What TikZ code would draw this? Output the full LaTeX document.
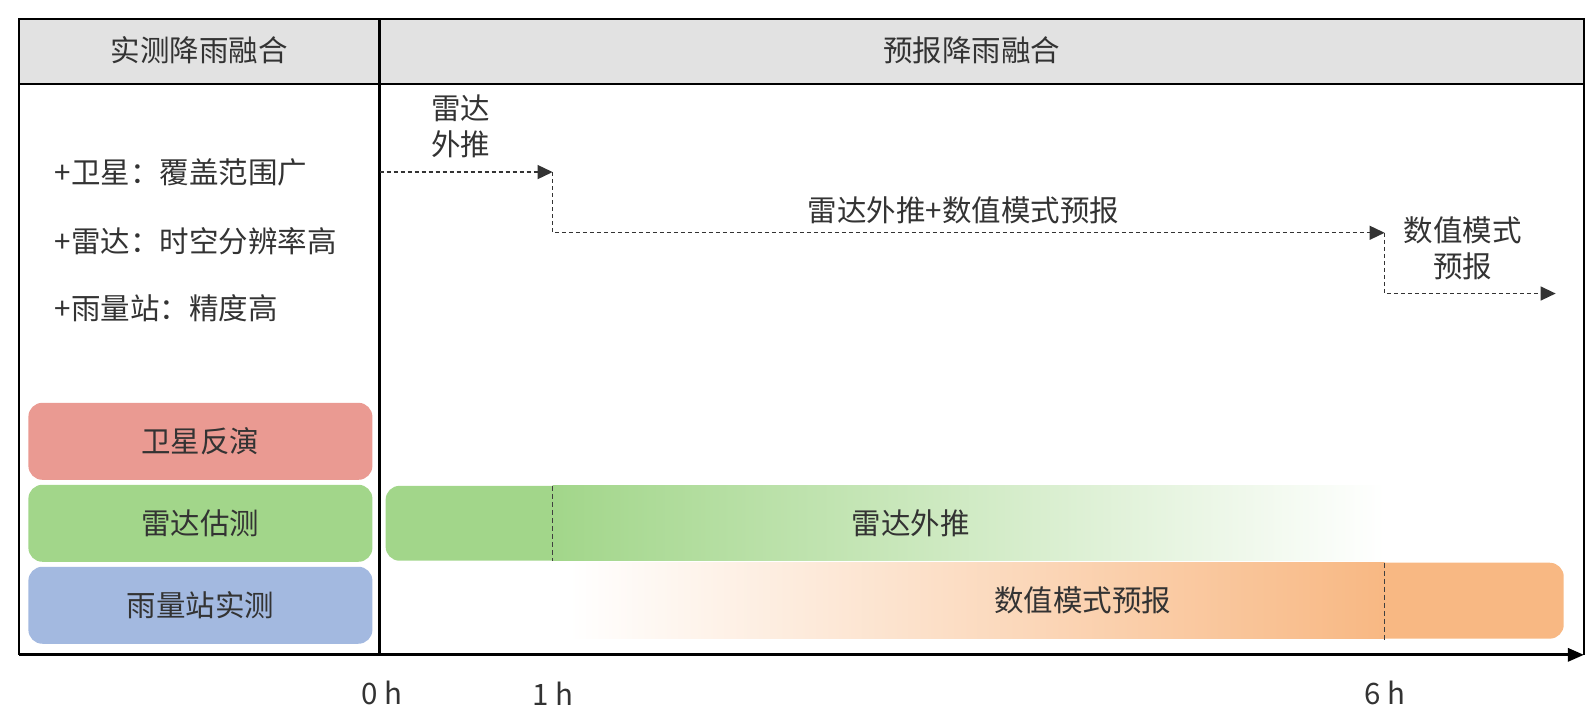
\documentclass[tikz,border=0pt]{standalone}
\usepackage{fontspec}
\setmainfont{Noto Sans CJK SC}
\usetikzlibrary{arrows.meta}
\definecolor{txt}{HTML}{333333}
\definecolor{hdr}{HTML}{E2E2E2}
\definecolor{redb}{HTML}{EA9A92}
\definecolor{greenb}{HTML}{A2D68A}
\definecolor{blueb}{HTML}{A3B9E0}
\definecolor{orangeb}{HTML}{F8B883}
\tikzset{
  lbl/.style={text=txt,font=\fontsize{29.5}{36}\selectfont,inner sep=0pt},
  box/.style={rounded corners=14pt,draw=none,minimum width=344pt,minimum height=77pt,text=txt,font=\fontsize{29.5}{34}\selectfont},
  frame/.style={line width=2.4pt,black},
  flow/.style={dashed,dash pattern=on 4pt off 3pt,line width=1.4pt,black!80},
  flowarr/.style={flow,-{Triangle[length=15pt,width=14pt]}},
  tick/.style={dashed,dash pattern=on 5pt off 3pt,line width=1.3pt,black!75}
}
\begin{document}
\begin{tikzpicture}[x=1.0121pt,y=-1.0121pt]
\useasboundingbox (0,0) rectangle (1568,711.4);
% header
\fill[hdr] (19,19) rectangle (1565,83);
\node[lbl] (h1) at (197,50) {实测降雨融合};
\node[lbl] (h2) at (960,50) {预报降雨融合};
% left list
\node[lbl,anchor=west] (l1) at (54,170) {+卫星：覆盖范围广};
\node[lbl,anchor=west] (l2) at (54,238) {+雷达：时空分辨率高};
\node[lbl,anchor=west] (l3) at (54,305) {+雨量站：精度高};
% boxes
\node[box,fill=redb] (b1) at (198,436) {卫星反演};
\node[box,fill=greenb] (b2) at (198,517) {雷达估测};
\node[box,fill=blueb] (b3) at (198,598) {雨量站实测};
% green bar
\fill[greenb,rounded corners=14pt] (381,480) rectangle (600,554);
\shade[left color=greenb,middle color=greenb!70,right color=white] (546,480) rectangle (1368,554);
% orange bar
\fill[orangeb,rounded corners=14pt] (1340,556) rectangle (1545,631);
\shade[left color=white,right color=orangeb] (562,556) rectangle (1368,631);
\node[lbl] (g) at (900,517) {雷达外推};
\node[lbl] (o) at (1070,593) {数值模式预报};
\draw[tick] (546,480) -- (546,554);
\draw[tick] (1368,556) -- (1368,632);
% frame
\draw[frame] (19,647) -- (19,19) -- (1565,19) -- (1565,647);
\draw[frame] (19,83) -- (1565,83);
\draw[frame] (375,19) -- (375,647);
\coordinate (ax0) at (19,647);
\coordinate (ax1) at (1565,647);
\draw[line width=3pt,-{Triangle[length=16pt,width=13pt]}] (ax0) -- (ax1);
% time labels
\node[lbl] (t0) at (377,685) {0 h};
\node[lbl] (t1) at (546,685) {1 h};
\node[lbl] (t6) at (1368,685) {6 h};
% flow arrows
\coordinate (a0) at (375,170);
\coordinate (a1) at (546,170);
\coordinate (a2) at (546,230);
\coordinate (a3) at (1368,230);
\coordinate (a4) at (1368,290);
\coordinate (a5) at (1537,290);
\draw[flowarr] (a0) -- (a1);
\draw[flowarr] (a1) -- (a2) -- (a3);
\draw[flowarr] (a3) -- (a4) -- (a5);
\node[lbl,align=center] (f1) at (455,125) {雷达\\外推};
\node[lbl] (f2) at (952,208) {雷达外推+数值模式预报};
\node[lbl,align=center] (f3) at (1445,245) {数值模式\\预报};
\end{tikzpicture}
\end{document}
